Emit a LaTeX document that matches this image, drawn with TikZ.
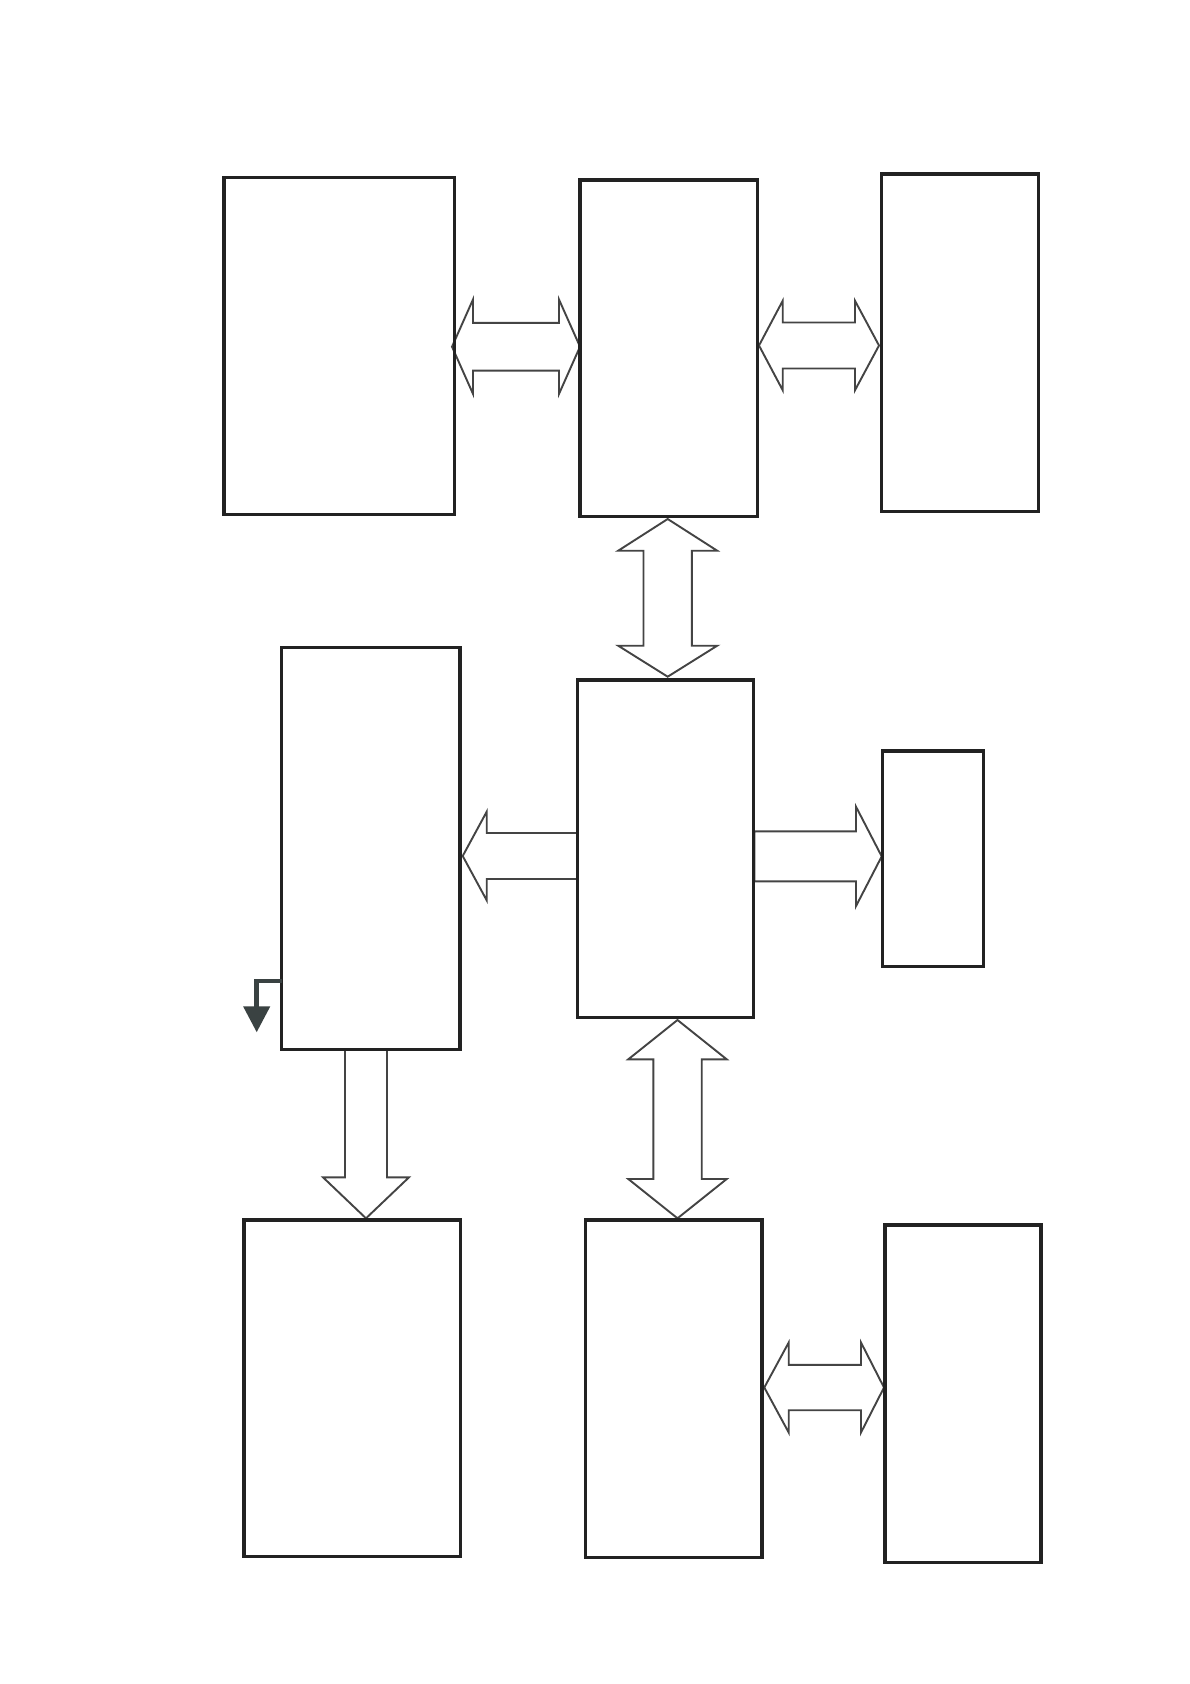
\documentclass[tikz,border=0pt]{standalone}
\usetikzlibrary{arrows.meta}
\definecolor{boxline}{HTML}{222222}
\definecolor{arrline}{HTML}{444444}
\definecolor{smallarr}{HTML}{3A4242}
\tikzset{
  box/.style={draw=boxline, line width=3.4pt, inner sep=0pt, outer sep=0pt, anchor=north west},
  blockarr/.style={draw=arrline, fill=white, line width=1.9pt, line join=miter},
}
% horizontal double arrow: xl, left head back, right head back, xr, yc, head half, shaft half
\newcommand\HDA[7]{%
  \draw[blockarr] (#1,#5) -- (#2,{#5-#6}) -- (#2,{#5-#7}) -- (#3,{#5-#7}) -- (#3,{#5-#6}) -- (#4,#5)
   -- (#3,{#5+#6}) -- (#3,{#5+#7}) -- (#2,{#5+#7}) -- (#2,{#5+#6}) -- cycle;}
% vertical double arrow: yt, top head back, bottom head back, yb, xc, head half, shaft half
\newcommand\VDA[7]{%
  \draw[blockarr] (#5,#1) -- ({#5+#6},#2) -- ({#5+#7},#2) -- ({#5+#7},#3) -- ({#5+#6},#3) -- (#5,#4)
   -- ({#5-#6},#3) -- ({#5-#7},#3) -- ({#5-#7},#2) -- ({#5-#6},#2) -- cycle;}
% horizontal single arrow: tail x, head back x, tip x, yc, head half, shaft half
\newcommand\HSA[6]{%
  \draw[blockarr] (#1,{#4-#6}) -- (#2,{#4-#6}) -- (#2,{#4-#5}) -- (#3,#4) -- (#2,{#4+#5}) -- (#2,{#4+#6}) -- (#1,{#4+#6}) -- cycle;}
% vertical single arrow: tail y, head back y, tip y, xc, head half, shaft half
\newcommand\VSA[6]{%
  \draw[blockarr] ({#4-#6},#1) -- ({#4-#6},#2) -- ({#4-#5},#2) -- (#4,#3) -- ({#4+#5},#2) -- ({#4+#6},#2) -- ({#4+#6},#1) -- cycle;}
\begin{document}
\begin{tikzpicture}[x=1pt,y=-1pt]
\useasboundingbox[fill=white] (0,0) rectangle (1190,1684);
% block arrows
\HDA{452}{473}{559}{580}{346.7}{47.2}{23.9}
\HDA{759}{782.7}{855}{879}{345.5}{44.7}{23}
\HDA{764.3}{788.7}{861}{884}{1387.5}{45}{22.7}
\VDA{519}{550.7}{645.7}{676.7}{667.7}{49.5}{24.2}
\VDA{1020}{1059.3}{1179}{1218.3}{677.5}{49.2}{24.2}
\HSA{754.3}{856}{881.7}{856.4}{49.7}{25}
\HSA{577.7}{486.7}{462.7}{856}{44.3}{23}
\VSA{1049.3}{1177.3}{1218.3}{366}{43}{21}
% boxes
\node[box, minimum width=230.3pt, minimum height=337.4pt] (A) at (224,177.3) {};
\node[box, minimum width=177.3pt, minimum height=336.7pt] (B) at (580,180) {};
\node[box, minimum width=156.6pt, minimum height=337.3pt] (C) at (881.7,174) {};
\node[box, minimum width=178.3pt, minimum height=401.6pt] (D) at (281.7,647.7) {};
\node[box, minimum width=175.6pt, minimum height=337.3pt] (E) at (577.7,680) {};
\node[box, minimum width=100.6pt, minimum height=215.7pt] (F) at (882.7,751) {};
\node[box, minimum width=216.7pt, minimum height=336.7pt] (G) at (244,1220) {};
\node[box, minimum width=176.3pt, minimum height=337.3pt] (H) at (585.7,1220) {};
\node[box, minimum width=156pt, minimum height=337.7pt] (I) at (885,1225) {};
% small dark arrow
\coordinate (sa) at (256.7,1032.3);
\draw[smallarr, line width=4.5pt, -{Triangle[width=26pt,length=26pt]}] ([yshift=68.3pt]D.south west) -| (sa);
\end{tikzpicture}
\end{document}
